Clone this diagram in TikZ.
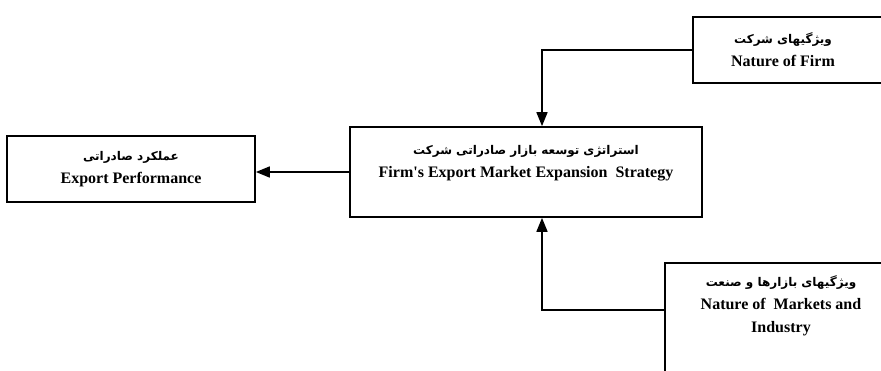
\documentclass[tikz,border=0pt]{standalone}
\usepackage{fontspec}
\setmainfont{Liberation Serif}
\newfontfamily\farsi[Script=Arabic]{DejaVu Sans}
\TeXXeTstate=1
\usepackage{tikz}
\usetikzlibrary{positioning}
\usetikzlibrary{arrows.meta}
\newcommand{\fa}[1]{{\farsi\fontsize{12}{14}\selectfont\beginR #1\endR}}

\begin{document}
\begin{tikzpicture}[x=1pt,y=-1pt,line width=1.7pt,
  -{Triangle[length=14pt,width=11pt]},
  box/.style = {draw, rectangle, inner sep=0pt},
  txt/.style = {align=center, font=\bfseries\fontsize{16}{23}\selectfont}]
        \useasboundingbox (0,0) rectangle (881,370);
        \clip (0,0) rectangle (881,370);
        \node[box,txt,minimum width=248pt,minimum height=66pt] (perf) at (131,169) {\fa{عملکرد صادراتی}\\Export Performance};
        \node[box,minimum width=352pt,minimum height=90pt] (strategy) at (526,172) {};
        \node[txt] (strategytext) at ([yshift=9pt]strategy.center) {\fa{استراتژی توسعه بازار صادراتی شرکت}\\Firm\textquotesingle s Export Market Expansion\ \ Strategy};
        \node[box,minimum width=196pt,minimum height=66pt,anchor=north west] (firm) at (692,16) {};
        \node[txt] (firmtext) at ([xshift=91pt]firm.west) {\fa{ویژگیهای شرکت}\\Nature of Firm};
        \node[box,minimum width=240pt,minimum height=150pt,anchor=north west] (market) at (664,262) {};
        \node[txt] (markettext) at ([xshift=117pt,yshift=-44pt]market.north west) {\fa{ویژگیهای بازارها و صنعت}\\Nature of\ \ Markets and\\Industry};
        \coordinate (marketin) at ([yshift=-48pt]market.north west);
        \draw (firm.west) -| ([xshift=16pt]strategy.north);
        \draw (marketin) -| ([xshift=16pt]strategy.south);
        \draw (strategy.west) -- (strategy.west -| perf.east);
      \end{tikzpicture}
\end{document}
